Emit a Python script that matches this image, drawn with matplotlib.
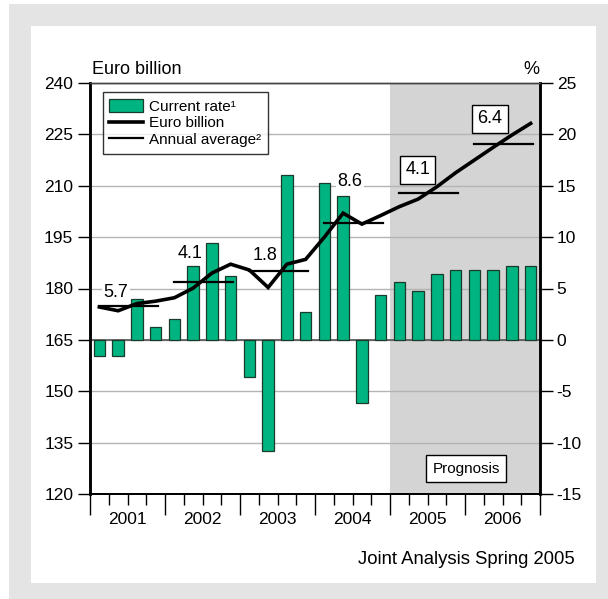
import matplotlib
matplotlib.use("Agg")
import matplotlib.pyplot as plt
from matplotlib.patches import Rectangle, Patch
from matplotlib.lines import Line2D
import matplotlib.transforms as mtransforms

plt.rcParams['font.family'] = ['Liberation Sans', 'DejaVu Sans']
plt.rcParams['axes.unicode_minus'] = False

years = [2001, 2002, 2003, 2004, 2005, 2006]
# quarterly current rate (%), right axis
current_rate = [-1.6, -1.6, 4.0, 1.3, 2.0, 7.2, 9.4, 6.2,
                -3.6, -10.8, 16.0, 2.7, 15.3, 14.0, -6.1, 4.35,
                5.6, 4.8, 6.4, 6.8, 6.8, 6.8, 7.2, 7.2]
# quarterly level (euro billion), left axis
euro_billion = [174.6, 173.5, 175.6, 176.3, 177.3, 180.1, 184.5, 187.1,
                185.4, 180.3, 187.1, 188.5, 195.0, 202.0, 198.8, 201.3,
                203.9, 206.1, 209.7, 213.8, 217.5, 221.2, 224.8, 228.2]
annual_average = [174.9, 182.0, 185.2, 199.2, 208.0, 222.1]
annual_labels = ["5.7", "4.1", "1.8", "8.6", "4.1", "6.4"]
label_pos = [(1.39, 178.7), (5.33, 190.1), (9.36, 189.5), (13.87, 211.2),
             (17.47, 214.6), (21.34, 229.5)]
label_boxed = [False, False, False, False, True, True]

W, H = 608, 599
fig = plt.figure(figsize=(W/100, H/100), dpi=100)
fig.patch.set_facecolor('white')
fig.add_artist(Rectangle((9/W, 0), (W-9)/W, (H-4)/H,
                         transform=fig.transFigure, facecolor='#e4e4e4',
                         edgecolor='none', zorder=-20))
fig.add_artist(Rectangle((31/W, 1-582.5/H), 565/W, 556.5/H,
                         transform=fig.transFigure, facecolor='white',
                         edgecolor='none', zorder=-10))

ax = fig.add_axes([90/W, 1-494/H, 450/W, 411/H])
ax2 = ax.twinx()
ax.set_facecolor('none')
ax2.set_facecolor('none')

nq = len(current_rate)
xs = [i + 0.5 for i in range(nq)]

# percent axis (bottom layer)
ax.set_ylim(-15, 25)
ax.set_xlim(0, nq)
ax.axvspan(16, 24, color='#d4d4d4', zorder=0.1, lw=0)
ax.set_yticks(range(-15, 26, 5))
ax.yaxis.tick_right()
ax.yaxis.set_label_position('right')
ax.grid(axis='y', color='#b4b4b4', lw=1.0, zorder=0.5)
ax.set_axisbelow(True)
ax.axhline(0, color='#555555', lw=1.2, zorder=1.5)
ax.bar(xs, current_rate, width=0.62, color='#00b482', edgecolor='#1a3a2a',
       linewidth=0.9, zorder=2)

# euro billion axis (top layer)
ax2.set_ylim(120, 240)
ax2.set_yticks(range(120, 241, 15))
ax2.yaxis.tick_left()
ax2.plot(xs, euro_billion, color='black', lw=2.6, zorder=3, solid_joinstyle='miter')
for k, v in enumerate(annual_average):
    ax2.plot([4*k + 0.5, 4*k + 3.6], [v, v], color='black', lw=1.6, zorder=3)

for (x, y), t, b in zip(label_pos, annual_labels, label_boxed):
    if b:
        ax2.text(x, y, t, ha='center', va='center', fontsize=13, zorder=5,
                 bbox=dict(boxstyle='square,pad=0.3', facecolor='white',
                           edgecolor='black', lw=1.0))
    else:
        ax2.text(x, y, t, ha='center', va='center', fontsize=13, zorder=5,
                 bbox=dict(boxstyle='square,pad=0.1', facecolor='white',
                           edgecolor='none'))

ax2.text(20.07, 127.4, "Prognosis", ha='center', va='center', fontsize=11,
         zorder=5, bbox=dict(boxstyle='square,pad=0.42', facecolor='white',
                             edgecolor='black', lw=1.0))

for a in (ax, ax2):
    a.tick_params(axis='y', labelsize=12.5, length=9, width=1.0, direction='out',
                  pad=3)
    a.spines['left'].set_linewidth(1.8)
    a.spines['right'].set_linewidth(1.8)
    a.spines['bottom'].set_linewidth(1.3)
    a.spines['top'].set_linewidth(1.0)
    a.spines['top'].set_color('#444444')

# x ticks
ax.set_xticks(range(0, nq + 1, 4))
ax.set_xticks(range(0, nq + 1), minor=True)
ax.set_xticklabels([])
ax.tick_params(axis='x', which='major', length=15, width=1.0)
ax.tick_params(axis='x', which='minor', length=8, width=1.0)
trans = mtransforms.blended_transform_factory(ax.transData, ax.transAxes)
for k, yr in enumerate(years):
    ax.text(4*k + 2, -0.063, str(yr), transform=trans, ha='center', va='center',
            fontsize=12.5)

# legend
handles = [Patch(facecolor='#00b482', edgecolor='#1a3a2a', lw=0.9),
           Line2D([], [], color='black', lw=2.6),
           Line2D([], [], color='black', lw=1.6)]
leg = ax2.legend(handles, ["Current rate\u00b9", "Euro billion", "Annual average\u00b2"],
                 loc='upper left', bbox_to_anchor=(0.028, 0.977), fontsize=11,
                 frameon=True, fancybox=False, edgecolor='black',
                 handlelength=2.2, handleheight=0.9, labelspacing=0.12,
                 borderpad=0.45, handletextpad=0.4, borderaxespad=0)
leg.get_frame().set_linewidth(1.0)
leg.set_zorder(6)

fig.text(92/W, 1-69/H, "Euro billion", ha='left', va='center', fontsize=13)
fig.text(531/W, 1-69/H, "%", ha='center', va='center', fontsize=13)
fig.text(575/W, 1-559/H, "Joint Analysis Spring 2005", ha='right',
         va='center', fontsize=13.3)

fig.savefig("out.png", dpi=100, facecolor=fig.get_facecolor())
